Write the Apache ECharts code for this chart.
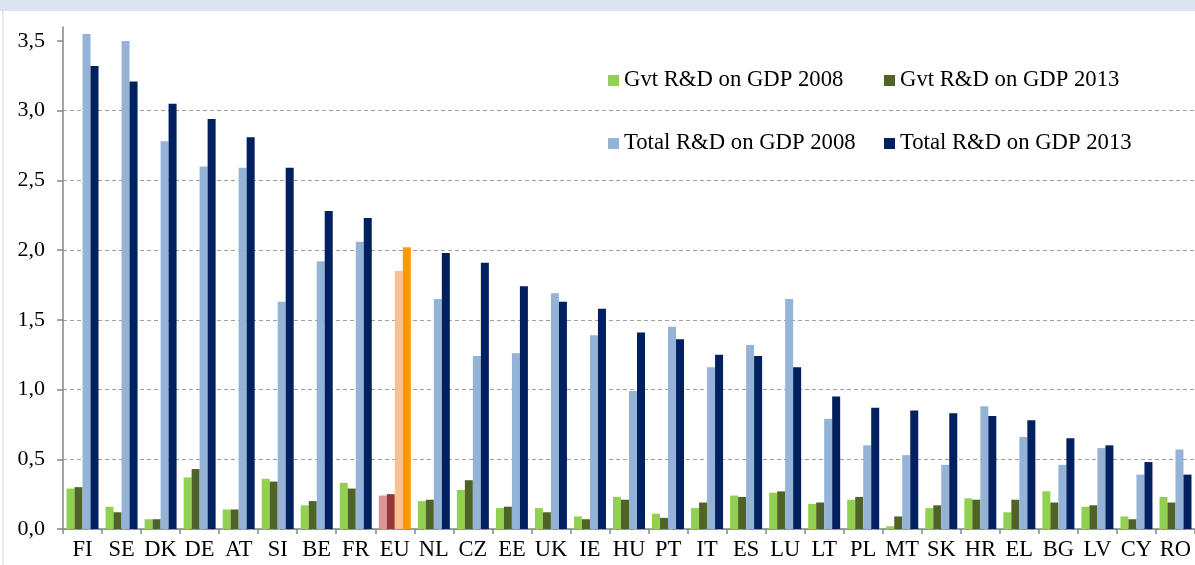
<!DOCTYPE html>
<html>
<head>
<meta charset="utf-8">
<title>Gvt and total R&amp;D on GDP</title>
<script src="https://cdn.jsdelivr.net/npm/echarts@6/dist/echarts.min.js"></script>
<style>
  html, body { margin: 0; padding: 0; background: #fff; }
  #chart { width: 1195px; height: 565px; }
</style>
</head>
<body>
<div id="chart"></div>
<script>
// country codes, in chart order
const countries = ['FI','SE','DK','DE','AT','SI','BE','FR','EU','NL','CZ','EE','UK','IE','HU','PT','IT','ES','LU','LT','PL','MT','SK','HR','EL','BG','LV','CY','RO'];
// values (% of GDP)
const gvt2008 = [0.29,0.16,0.07,0.37,0.14,0.36,0.17,0.33,0.24,0.20,0.28,0.15,0.15,0.09,0.23,0.11,0.15,0.24,0.26,0.18,0.21,0.02,0.15,0.22,0.12,0.27,0.16,0.09,0.23];
const gvt2013 = [0.30,0.12,0.07,0.43,0.14,0.34,0.20,0.29,0.25,0.21,0.35,0.16,0.12,0.07,0.21,0.08,0.19,0.23,0.27,0.19,0.23,0.09,0.17,0.21,0.21,0.19,0.17,0.07,0.19];
const tot2008 = [3.55,3.50,2.78,2.60,2.59,1.63,1.92,2.06,1.85,1.65,1.24,1.26,1.69,1.39,0.99,1.45,1.16,1.32,1.65,0.79,0.60,0.53,0.46,0.88,0.66,0.46,0.58,0.39,0.57];
const tot2013 = [3.32,3.21,3.05,2.94,2.81,2.59,2.28,2.23,2.02,1.98,1.91,1.74,1.63,1.58,1.41,1.36,1.25,1.24,1.16,0.95,0.87,0.85,0.83,0.81,0.78,0.65,0.60,0.48,0.39];
const yTicks = [0,0.5,1,1.5,2,2.5,3,3.5];

const seriesNames = ['Gvt R&D on GDP 2008','Gvt R&D on GDP 2013','Total R&D on GDP 2008','Total R&D on GDP 2013'];
const colors = ['#92d050','#4f6228','#95b3d7','#002060'];
const euColors = ['#d99694','#953735','#fac090','#ff9900'];

const font = '"Liberation Serif", "Times New Roman", serif';
const chart = echarts.init(document.getElementById('chart'), null, {renderer: 'canvas'});

function makeSeries(i, values) {
  return {
    name: seriesNames[i],
    type: 'bar',
    barWidth: 8,
    barGap: '0%',
    itemStyle: {color: colors[i]},
    data: values.map(function (v, k) {
      // EU average gets its own colours
      if (countries[k] === 'EU') {
        return {value: v, itemStyle: {color: euColors[i]}};
      }
      return v;
    })
  };
}

// one legend per entry so the two columns line up like the original
const legendPos = [[608, 69], [884, 69], [608, 132], [884, 132]];
const legends = seriesNames.map(function (n, i) {
  return {
    data: [n],
    left: legendPos[i][0],
    top: legendPos[i][1],
    padding: 0,
    icon: 'rect',
    itemWidth: 11,
    itemHeight: 11,
    itemGap: 0,
    selectedMode: false,
    textStyle: {fontFamily: font, fontSize: 22.7, color: '#000'}
  };
});

const option = {
  animation: false,
  backgroundColor: '#fff',
  graphic: [
    {type: 'rect', shape: {x: 0, y: 0, width: 1195, height: 11}, style: {fill: '#dbe5f1'}, silent: true},
    {type: 'rect', shape: {x: 2, y: 11, width: 1.5, height: 554}, style: {fill: '#dbe5f1'}, silent: true}
  ],
  legend: legends,
  grid: {left: 63, right: 0, top: 27, bottom: 36, containLabel: false},
  xAxis: {
    type: 'category',
    data: countries,
    axisLine: {lineStyle: {color: '#868686', width: 1.5}},
    axisTick: {show: true, length: 5, lineStyle: {color: '#868686', width: 1.5}},
    axisLabel: {fontFamily: font, fontSize: 22.5, color: '#000', margin: 10, interval: 0}
  },
  yAxis: {
    type: 'value',
    min: 0,
    max: 3.6,
    axisLine: {show: true, lineStyle: {color: '#868686', width: 1.5}},
    axisTick: {show: true, length: 6, customValues: yTicks, lineStyle: {color: '#868686', width: 1.5}},
    axisLabel: {
      customValues: yTicks,
      fontFamily: font, fontSize: 22, color: '#000', margin: 18,
      formatter: function (v) { return v.toFixed(1).replace('.', ','); }
    },
    splitLine: {show: true, showMaxLine: false, lineStyle: {color: '#a0a0a0', type: [4, 3], width: 1}}
  },
  series: [
    makeSeries(0, gvt2008),
    makeSeries(1, gvt2013),
    makeSeries(2, tot2008),
    makeSeries(3, tot2013)
  ]
};
chart.setOption(option);
</script>
</body>
</html>
